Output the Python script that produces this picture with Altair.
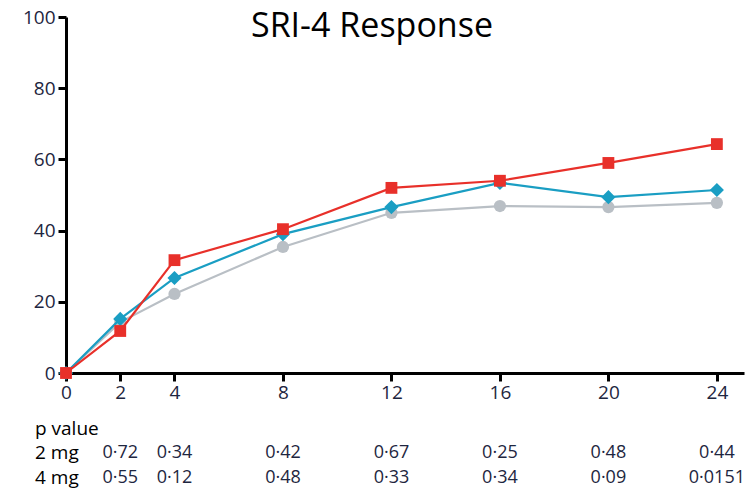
import altair as alt
import pandas as pd

weeks = [0, 2, 4, 8, 12, 16, 20, 24]
placebo = [0, 14.3, 22.2, 35.4, 45.0, 46.9, 46.6, 47.8]
dose2mg = [0, 15.2, 26.7, 39.0, 46.6, 53.4, 49.4, 51.4]
dose4mg = [0, 11.8, 31.7, 40.4, 52.0, 54.0, 59.0, 64.3]

pval_weeks = [2, 4, 8, 12, 16, 20, 24]
p_2mg = ["0·72", "0·34", "0·42", "0·67", "0·25", "0·48", "0·44"]
p_4mg = ["0·55", "0·12", "0·48", "0·33", "0·34", "0·09", "0·0151"]
row_labels = ["p value", "2 mg", "4 mg"]

series_names = ["Placebo", "2 mg", "4 mg"]
series_colors = ["#b9bfc5", "#1a9ec3", "#e8302a"]
series_shapes = ["circle", "diamond", "square"]
series_sizes = [150, 200, 140]

W, H = 678, 356
FONT = "Open Sans"
LABEL_COLOR = "#1e2640"

xscale = alt.Scale(domain=[0, 25], nice=False)
yscale = alt.Scale(domain=[0, 100], nice=False)

xaxis = alt.Axis(values=weeks, grid=False, title=None, labelFontSize=19, labelFont=FONT,
                 labelColor=LABEL_COLOR, tickSize=8, tickWidth=3, tickColor="black",
                 domainWidth=3, domainColor="black", labelPadding=2, labelFlush=False)
yaxis = alt.Axis(values=[0, 20, 40, 60, 80, 100], grid=False, title=None, labelFontSize=19,
                 labelFont=FONT, labelColor=LABEL_COLOR, tickSize=8, tickWidth=3,
                 tickColor="black", domainWidth=3, domainColor="black", labelPadding=3,
                 labelFlush=False)

layers = []
for i, (name, vals) in enumerate(zip(series_names, [placebo, dose2mg, dose4mg])):
    sdf = pd.DataFrame({"week": weeks, "value": vals, "series": name})
    base = alt.Chart(sdf).encode(
        x=alt.X("week:Q", scale=xscale, axis=xaxis),
        y=alt.Y("value:Q", scale=yscale, axis=yaxis),
    )
    layers.append(base.mark_line(strokeWidth=2.2, color=series_colors[i]))
    layers.append(base.mark_point(filled=True, opacity=1, shape=series_shapes[i],
                                  size=series_sizes[i], color=series_colors[i]))

pdf = pd.DataFrame({"week": pval_weeks, "p2": p_2mg, "p4": p_4mg})
ldf = pd.DataFrame({"label": row_labels, "ypix": [412, 436, 461]})

title = alt.Chart(pd.DataFrame({"t": ["SRI-4 Response"]})).mark_text(
    font=FONT, fontSize=34, color="black", align="center", baseline="middle"
).encode(x=alt.value(306), y=alt.value(10), text="t:N")

ptext2 = alt.Chart(pdf).mark_text(font=FONT, fontSize=18, color=LABEL_COLOR, align="center",
                                  baseline="middle").encode(
    x=alt.X("week:Q", scale=xscale, axis=xaxis), y=alt.value(436), text="p2:N")
ptext4 = alt.Chart(pdf).mark_text(font=FONT, fontSize=18, color=LABEL_COLOR, align="center",
                                  baseline="middle").encode(
    x=alt.X("week:Q", scale=xscale, axis=xaxis), y=alt.value(461), text="p4:N")
labels = alt.Chart(ldf).mark_text(font=FONT, fontSize=19, color="black", align="left",
                                  baseline="middle").encode(
    x=alt.value(-31), y=alt.Y("ypix:Q", scale=None), text="label:N")

chart = alt.layer(*layers, title, ptext2, ptext4, labels).properties(
    width=W, height=H,
    autosize=alt.AutoSizeParams(type="none"),
    padding={"left": 66, "top": 17, "right": 6, "bottom": 121},
).configure(background="white", view=alt.ViewConfig(stroke=None))

chart.save("out.html", embed_options={"renderer": "svg", "actions": False})
